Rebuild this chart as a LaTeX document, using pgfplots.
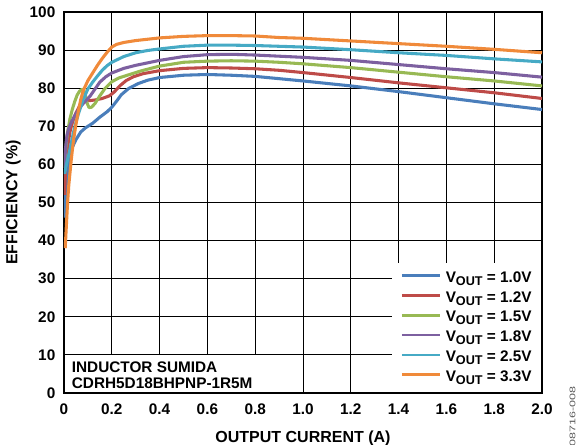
\documentclass[border=0pt]{standalone}
\usepackage{fontspec}
\setmainfont{Liberation Sans}
\usepackage{pgfplots}
\pgfplotsset{compat=1.18}

\definecolor{cBlue}{HTML}{4A7EBB}
\definecolor{cRed}{HTML}{BE4B48}
\definecolor{cGreen}{HTML}{98B954}
\definecolor{cPurple}{HTML}{7D60A0}
\definecolor{cTeal}{HTML}{46AAC5}
\definecolor{cOrange}{HTML}{F08A3A}

\newcommand{\vout}[1]{V\raisebox{-0.35ex}{\fontsize{9.5}{10}\selectfont OUT} = #1V}

\begin{document}
\begin{tikzpicture}
\begin{axis}[
  name=ax,
  scale only axis,
  width=358.5pt, height=285.75pt,
  xmin=0, xmax=2, ymin=0, ymax=100,
  xtick={0,0.2,0.4,0.6,0.8,1,1.2,1.4,1.6,1.8,2},
  xticklabels={0,0.2,0.4,0.6,0.8,1.0,1.2,1.4,1.6,1.8,2.0},
  ytick={0,10,...,100},
  grid=major,
  major grid style={black, line width=0.7pt},
  axis line style={black, line width=1.9pt},
  major tick length=0pt,
  tick style={draw=none},
  /pgf/number format/assume math mode=true,
  ticklabel style={font=\bfseries\fontsize{11.5}{13}\selectfont},
  xticklabel style={yshift=-4.5pt},
  yticklabel style={xshift=-3pt},
  xlabel={OUTPUT CURRENT (A)},
  ylabel={EFFICIENCY (\%)},
  label style={font=\bfseries\fontsize{12}{14}\selectfont},
  xlabel style={at={(rel axis cs:0.5,0)}, anchor=base, yshift=-37pt},
  ylabel style={at={(rel axis cs:0,0.5)}, anchor=base, yshift=35pt},
  legend style={at={(rel axis cs:1,0)}, anchor=south east, draw=none, fill=none,
    inner xsep=7.5pt, inner ysep=5pt, row sep=2.85pt, column sep=3pt,
    font=\bfseries\fontsize{11.5}{13}\selectfont,
    nodes={inner sep=0pt, text height=8.5pt, text depth=3.5pt}},
  legend cell align=left,
  legend image code/.code={\draw[#1, line width=2pt] (0pt,2.5pt) -- (29pt,2.5pt);},
  every axis plot/.append style={line width=2.3pt, line join=round},
]
% white boxes behind legend and inductor note
\fill[white] (axis cs:1.372,0.35) rectangle (axis cs:1.994,34);
\fill[white] (axis cs:0.006,0.35) rectangle (axis cs:0.862,9.85);

\addplot[cBlue] coordinates {
(0.003,46)(0.008,53)(0.015,58.5)(0.025,62)(0.035,64.5)(0.05,66.5)(0.07,68.5)
(0.09,69.6)(0.12,70.8)(0.15,72.4)(0.18,73.8)(0.2,75)(0.22,76.6)(0.24,78.3)
(0.27,79.9)(0.31,81.2)(0.35,82.1)(0.4,82.8)(0.5,83.4)(0.6,83.6)(0.7,83.4)
(0.8,83.1)(0.9,82.5)(1.0,81.9)(1.2,80.6)(1.4,79.1)(1.6,77.5)(1.8,75.9)(2.0,74.4)};
\addlegendentry{\vout{1.0}}

\addplot[cRed] coordinates {
(0.002,52)(0.008,60)(0.015,64.5)(0.025,68.5)(0.035,71)(0.05,73.5)(0.065,75.3)
(0.08,76.3)(0.1,76.7)(0.13,76.9)(0.16,77.3)(0.19,78)(0.21,79)(0.235,80.7)
(0.26,82)(0.29,83)(0.33,83.8)(0.4,84.6)(0.5,85.2)(0.6,85.4)(0.7,85.3)(0.8,85.1)
(0.9,84.7)(1.0,84.1)(1.2,82.8)(1.4,81.4)(1.6,80.1)(1.8,78.8)(2.0,77.3)};
\addlegendentry{\vout{1.2}}

\addplot[cGreen] coordinates {
(0.002,59)(0.008,64.5)(0.015,68.5)(0.025,72)(0.035,74.5)(0.045,76.5)(0.055,78.2)
(0.065,79.2)(0.075,79.7)(0.083,79.5)(0.09,78)(0.097,76)(0.105,74.9)(0.115,75)
(0.13,76)(0.15,78)(0.17,79.8)(0.2,81.7)(0.23,82.7)(0.27,83.5)(0.32,84.5)(0.4,85.8)
(0.5,86.8)(0.6,87.1)(0.7,87.2)(0.8,87.1)(0.9,86.8)(1.0,86.4)(1.2,85.4)(1.4,84.2)
(1.6,83.0)(1.8,81.9)(2.0,80.6)};
\addlegendentry{\vout{1.5}}

\addplot[cPurple] coordinates {
(0.002,59)(0.006,64)(0.012,67.5)(0.02,69.5)(0.03,71)(0.045,72.8)(0.06,74.3)
(0.075,75.6)(0.09,76.6)(0.11,78)(0.13,79.8)(0.15,81.6)(0.175,83)(0.2,84)(0.25,85.2)
(0.3,86)(0.4,87.3)(0.5,88.3)(0.6,88.8)(0.7,88.9)(0.8,88.7)(0.9,88.4)(1.0,88.1)
(1.2,87.3)(1.4,86.2)(1.6,85.1)(1.8,84.1)(2.0,82.9)};
\addlegendentry{\vout{1.8}}

\addplot[cTeal] coordinates {
(0.003,57.5)(0.01,60)(0.02,62.5)(0.03,65.5)(0.04,68.5)(0.05,71)(0.06,73.2)(0.08,77)
(0.1,79.8)(0.12,81.6)(0.14,83.2)(0.16,84.7)(0.18,85.9)(0.2,86.8)(0.25,88.3)(0.3,89.3)
(0.35,89.9)(0.4,90.3)(0.5,91)(0.6,91.3)(0.7,91.3)(0.8,91.2)(0.9,91.0)(1.0,90.8)
(1.2,90.1)(1.4,89.3)(1.6,88.6)(1.8,87.7)(2.0,86.9)};
\addlegendentry{\vout{2.5}}

\addplot[cOrange] coordinates {
(0.005,38)(0.01,44)(0.015,50)(0.02,54.5)(0.03,61)(0.04,66.5)(0.05,70.5)(0.06,74)
(0.07,77)(0.08,79.3)(0.1,82)(0.12,84)(0.14,86)(0.16,87.8)(0.18,89.4)(0.2,90.8)
(0.22,91.5)(0.25,92)(0.3,92.5)(0.4,93.2)(0.5,93.6)(0.6,93.8)(0.7,93.8)(0.8,93.7)
(0.9,93.3)(1.0,93.1)(1.2,92.4)(1.4,91.7)(1.6,91.0)(1.8,90.2)(2.0,89.3)};
\addlegendentry{\vout{3.3}}

\node[anchor=base west, inner sep=0pt, font=\bfseries\fontsize{11.5}{12}\selectfont]
  at (axis cs:0.032,5.25) {INDUCTOR SUMIDA};
\node[anchor=base west, inner sep=0pt, font=\bfseries\fontsize{11.5}{12}\selectfont]
  at (axis cs:0.032,1.23) {CDRH5D18BHPNP-1R5M};
\end{axis}

\node[rotate=90, anchor=base west, inner sep=0pt, text=black!65]
  at ([xshift=25.1pt, yshift=-40.5pt]ax.south east)
  {\scalebox{1}[0.65]{\fontsize{9.4}{10}\selectfont 08716-008}};

\pgfresetboundingbox
\path ([xshift=-48pt, yshift=-39pt]ax.south west) rectangle ([xshift=29.25pt, yshift=9pt]ax.north east);
\end{tikzpicture}
\end{document}
